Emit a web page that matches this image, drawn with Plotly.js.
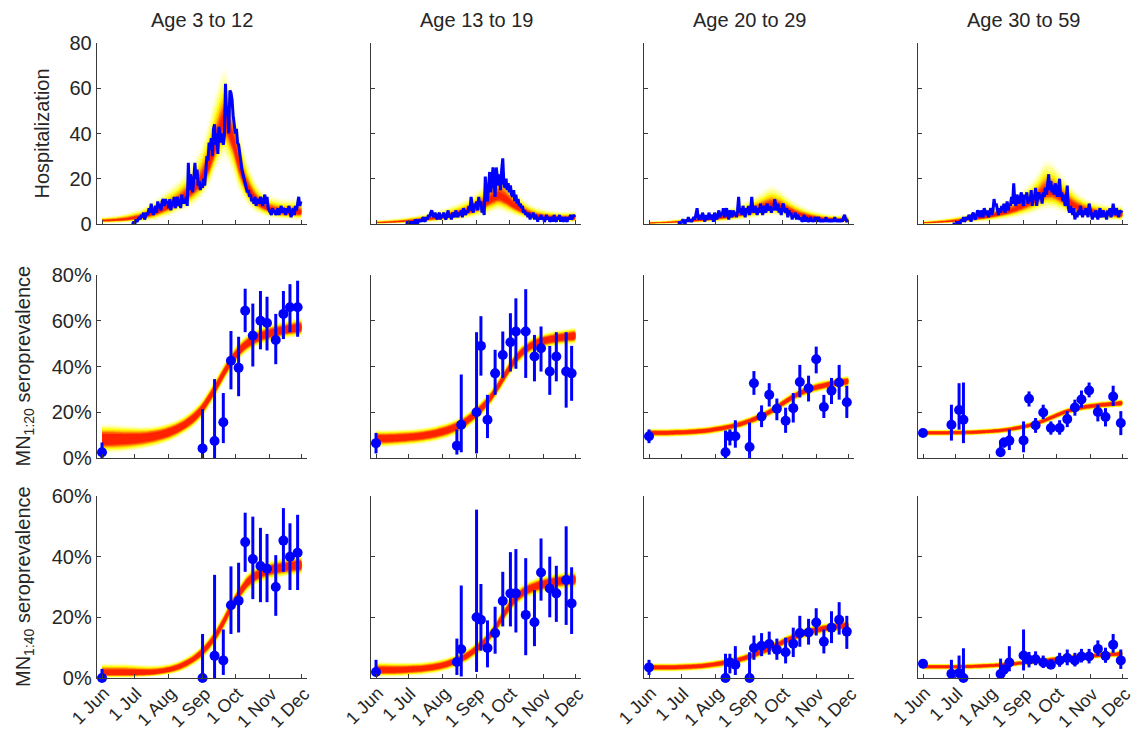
<!DOCTYPE html>
<html>
<head>
<meta charset="utf-8">
<script src="https://cdn.plot.ly/plotly-3.0.1.min.js"></script>
<style>html,body{margin:0;padding:0;background:#fff;}#chart{width:1140px;height:729px;}</style>
</head>
<body>
<div id="chart"></div>
<script>
// ---------------- DATA ----------------
const AGE_GROUPS = ['Age 3 to 12', 'Age 13 to 19', 'Age 20 to 29', 'Age 30 to 59'];
const MONTH_TICKS = ['2009-06-01','2009-07-01','2009-08-01','2009-09-01','2009-10-01','2009-11-01','2009-12-01'];
const MONTH_LABELS = ['1 Jun','1 Jul','1 Aug','1 Sep','1 Oct','1 Nov','1 Dec'];
const ROW_TITLES = ['Hospitalization', 'MN<sub>1:20</sub> seroprevalence', 'MN<sub>1:40</sub> seroprevalence'];
const HOSP_TICKS = [0, 20, 40, 60, 80];
const HOSP_LABELS = ['0', '20', '40', '60', '80'];
const MN20_TICKS = [0, 20, 40, 60, 80];
const MN20_LABELS = ['0%', '20%', '40%', '60%', '80%'];
const MN40_TICKS = [0, 20, 40, 60];
const MN40_LABELS = ['0%', '20%', '40%', '60%'];

// weekly model dates
const MODEL_DATES = ['2009-06-01','2009-06-08','2009-06-15','2009-06-22','2009-06-29','2009-07-06','2009-07-13','2009-07-20','2009-07-27',
  '2009-08-03','2009-08-10','2009-08-17','2009-08-24','2009-08-31','2009-09-07','2009-09-14','2009-09-21','2009-09-28',
  '2009-10-05','2009-10-12','2009-10-19','2009-10-26','2009-11-02','2009-11-09','2009-11-16','2009-11-23','2009-11-30'];

// daily hospitalizations, starting 28 Jun 2009
const HOSP_START = '2009-06-28';
const hosp_3to12 = [0,0,1,0,2,1,2, 3,2,4,3,5,2,4, 5,4,7,5,9,6,4, 6,8,5,10,7,9,6, 10,11,8,11,9,10,7, 11,6,10,8,12,7,9, 12,8,11,7,13,9,11,
  9,12,8, 27, 15,22,18,14,20, 27, 20,24,17,19,15,18,16,20,17, 24,30,28,36,33,38,30,42, 44, 35,40,31,43,38,36,40,35,39, 62, 48,52,40,59,
  58,55,48,45,40,42,36, 35,30,28,24,22,20,18, 17,14,15,12,13,10,11, 9,12,8,10,11,9,12, 10,8,11,13,9,12,7, 6,5,4,7,5,6,4,
  5,7,4,6,8,5,7, 6,4,7,5,8,6,3, 5,7,4,8,6,9,12, 8,10];
const hosp_13to19 = [0,0,1,0,0,1,0, 1,0,2,1,0,2,1, 2,1,3,2,1,3,2, 4,3,5,6,4,3,5, 3,2,4,5,2,4,3, 5,3,2,4,6,3,4, 2,5,4,3,6,4,3,
  5,4,6,3,7,5,4, 6,5,8,6,12,7,5, 9,7,10,6,12,8,10, 5,7,4,21,12,10,15, 23,14,18,25,16,12,25, 20,17,22,15,24,29,18,
  16,20,15,18,14,17,13, 12,15,10,13,9,11,8, 9,7,8,5,6,4,5, 3,5,2,4,3,5,2, 4,3,1,3,2,4,2, 3,1,2,4,2,3,1, 2,3,1,4,2,1,3,
  2,4,1,3,2,1,3, 2,1,3,2,4,2,3,4,3];
const hosp_20to29 = [0,1,0,1,2,1,0, 2,1,3,1,2,1,2, 3,2,4,7,3,2,4, 2,5,3,1,4,2,3, 5,2,4,3,1,5,3, 2,4,6,3,5,4,7, 3,5,7,4,2,6,5,
  3,6,4,5,3,6,12, 5,7,4,8,6,3,7, 5,8,4,6,12,7,5, 8,6,4,7,5,9,6, 4,8,6,5,9,7,6, 8,5,7,6,11,8,6, 9,5,7,4,8,9,6,
  5,7,3,6,4,5,2, 4,3,5,2,4,3,2, 3,1,2,4,1,3,2, 1,2,3,1,2,1,3, 2,1,3,2,1,2,1, 2,1,3,1,2,1,2, 1,2,1,3,1,2,1, 2,1,2,1,3,4,2,1,2];
const hosp_30to59 = [0,0,0,0,1,0,1, 0,2,1,3,1,2,3, 2,4,3,1,4,5,3, 2,4,6,5,3,6,4, 3,7,5,4,6,3,5, 7,4,6,11,8,9,6, 4,7,5,8,6,9,5,
  7,10,6,9,8,12,9, 18,10,8,13,11,9,12, 14,10,8,13,11,14,9, 12,10,15,8,13,11,16, 8,12,14,11,13,9,14, 12,16,13,18,22,15,19,
  14,17,13,18,15,12,16, 20,12,14,10,13,8,11, 17,7,5,8,6,4,7, 2,5,3,6,4,8,5, 3,6,4,7,5,3,9, 6,4,2,5,3,6,4, 2,5,7,3,4,6,3,
  5,2,6,4,7,3,5, 9,6,4,7,5,3,6,5,6];

// model hospitalization: median and outer band (weekly)
const hospMed_3to12 = [1.5,1.6,1.8,2,2.5,3,4,5,6.5,8,10,12.5,15.5,19,26,36,45,38,25,16,11,8,6.5,5.5,5,5,5];
const hospLo_3to12  = [0.3,0.3,0.4,0.5,0.6,0.8,1,1.5,2.5,3.5,5,6,8,11,16,24,28,22,13,8,5,3.5,2.5,2,1.8,1.8,1.8];
const hospHi_3to12  = [3.2,3.5,4,4.8,5.8,7,9,11.5,14,17,20,24,29,36,48,62,70,60,42,29,20,15,13,12,11.5,11.5,11.5];
const hospMed_13to19 = [0.6,0.7,0.8,1,1.2,1.5,1.8,2.2,2.7,3.2,3.8,4.6,5.5,6.8,8.5,10.5,12,10.5,8,6,4.5,3.5,3,2.7,2.5,2.5,2.5];
const hospLo_13to19  = [0.1,0.1,0.2,0.2,0.3,0.4,0.5,0.7,0.9,1.1,1.4,1.8,2.2,2.8,3.5,4.5,5.5,4.5,3.5,2.5,1.8,1.3,1,0.9,0.8,0.8,0.8];
const hospHi_13to19  = [1.7,2,2.3,2.7,3.2,3.8,4.5,5.3,6.3,7.4,8.6,10,12,14.5,18,22,26,22,16.5,12.5,9.5,7.8,6.8,6.2,5.8,5.8,5.8];
const hospMed_20to29 = [0.4,0.5,0.6,0.8,1,1.2,1.5,1.8,2.2,2.6,3.1,3.7,4.4,5.2,6.2,7.2,8,7.5,6.2,4.8,3.8,3,2.5,2.1,1.9,1.8,1.8];
const hospLo_20to29  = [0,0.1,0.1,0.1,0.2,0.3,0.4,0.5,0.7,0.9,1.1,1.4,1.7,2.1,2.6,3.1,3.5,3.2,2.6,2,1.5,1.1,0.9,0.7,0.6,0.6,0.6];
const hospHi_20to29  = [1.2,1.4,1.6,2,2.4,2.8,3.4,4.1,4.9,5.8,6.8,8,9.5,11,13,15.5,17.5,16,13,10.3,8.3,6.8,5.7,4.9,4.4,4.2,4.2];
const hospMed_30to59 = [0.5,0.6,0.8,1,1.3,1.6,2,2.5,3,3.6,4.4,5.3,6.4,7.8,9.5,11.5,14,14,12,9.5,7.5,6.2,5.3,4.7,4.3,4.1,4];
const hospLo_30to59  = [0.1,0.1,0.2,0.2,0.3,0.4,0.6,0.8,1,1.3,1.7,2.1,2.6,3.2,4,5,6,6,5,4,3.1,2.5,2.1,1.8,1.6,1.5,1.5];
const hospHi_30to59  = [1.5,1.8,2.2,2.7,3.3,4,4.8,5.7,6.8,8,9.4,11,13,15.5,19,23.5,29,28,23.5,19,15,12.5,10.8,9.7,9,8.6,8.4];

// model seroprevalence (%): MN 1:20
const mn20Med_3to12 = [8,8,8,8.1,8.3,8.6,9,9.6,10.4,11.5,13,15,17.5,21,26,31.5,37.5,43,47,50,52,53.5,54.5,55.3,56,56.5,57];
const mn20Lo_3to12  = [2,2,2.2,2.5,3,3.5,4.2,5,6,7.3,9,11,13.5,17,22,27.5,33.5,39,43,46,48,49.5,50.5,51.3,52,52.5,53];
const mn20Hi_3to12  = [15,15,14.8,14.5,14.3,14,14,14.3,15,16,17.3,19.3,22,25.5,30.5,36,42,47.5,51.5,54.5,56.5,58,59,59.8,60.5,61,61.5];
const mn20Med_13to19 = [8.5,8.5,8.6,8.8,9,9.3,9.7,10.2,10.9,11.8,13,14.6,16.6,19.3,22.5,26.5,31.5,37,42,46,48.5,50.3,51.3,52,52.6,53,53.4];
const mn20Lo_13to19  = [4.5,4.5,4.7,5,5.3,5.6,6,6.5,7.2,8.1,9.3,10.9,12.9,15.6,18.8,22.8,27.8,33.3,38.3,42.3,44.8,46.6,47.6,48.3,48.9,49.3,49.7];
const mn20Hi_13to19  = [12.5,12.5,12.6,12.7,12.8,13,13.4,13.9,14.6,15.5,16.7,18.3,20.3,23,26.2,30.2,35.2,40.7,45.7,49.7,52.2,54,55,55.7,56.3,56.7,57.1];
const mn20Med_20to29 = [11,11,11,11.1,11.2,11.3,11.5,11.8,12.2,12.7,13.3,14,14.9,16,17.3,18.8,20.6,22.8,25,27,28.7,30,31,31.8,32.5,33,33.5];
const mn20Lo_20to29  = [9,9,9,9.1,9.2,9.3,9.5,9.8,10.2,10.7,11.3,12,12.8,13.9,15.1,16.6,18.3,20.5,22.7,24.7,26.3,27.6,28.6,29.4,30,30.5,31];
const mn20Hi_20to29  = [13,13,13,13.1,13.2,13.3,13.5,13.8,14.2,14.7,15.3,16.1,17,18.1,19.5,21,22.9,25.1,27.4,29.4,31.1,32.4,33.5,34.3,35,35.5,36];
const mn20Med_30to59 = [11,11,11,11,11.1,11.1,11.2,11.3,11.5,11.7,12,12.4,12.9,13.6,14.4,15.4,16.6,18,19.4,20.6,21.5,22.2,22.7,23.1,23.4,23.7,24];
const mn20Lo_30to59  = [9.5,9.5,9.5,9.5,9.6,9.6,9.7,9.8,10,10.2,10.5,10.9,11.4,12,12.8,13.8,15,16.3,17.7,18.9,19.8,20.4,20.9,21.3,21.6,21.9,22.2];
const mn20Hi_30to59  = [12.5,12.5,12.5,12.5,12.6,12.6,12.7,12.8,13,13.2,13.5,13.9,14.5,15.2,16,17,18.3,19.7,21.1,22.3,23.3,24,24.5,24.9,25.2,25.5,25.8];

// model seroprevalence (%): MN 1:40
const mn40Med_3to12 = [1.5,1.5,1.5,1.5,1.5,1.5,1.6,1.8,2.2,2.8,3.6,4.8,6.3,8.3,11,14.5,19,24,28,31.5,33.5,34.8,35.6,36.2,36.6,37,37.2];
const mn40Lo_3to12  = [0,0,0,0,0,0.2,0.3,0.5,0.8,1.2,1.8,2.8,4.2,6,8.5,11.8,16,21,25,28.3,30.3,31.5,32.3,32.8,33.2,33.5,33.7];
const mn40Hi_3to12  = [5,5,5,5,4.8,4.6,4.4,4.4,4.6,5,5.8,7,8.6,10.8,13.8,17.5,22,27,31.2,34.8,36.8,38,39,39.6,40,40.4,40.6];
const mn40Med_13to19 = [2.5,2.5,2.5,2.6,2.7,2.9,3.1,3.4,3.8,4.4,5.2,6.2,7.5,9.3,11.5,14.3,18,22,25.5,27.8,29.3,30.3,31,31.5,31.9,32.2,32.4];
const mn40Lo_13to19  = [0.3,0.3,0.3,0.4,0.5,0.7,0.9,1.2,1.6,2.2,3,4,5.2,7,9.1,11.8,15.4,19.3,22.7,25,26.4,27.3,28,28.5,28.9,29.2,29.4];
const mn40Hi_13to19  = [5.5,5.5,5.4,5.3,5.3,5.3,5.4,5.7,6.1,6.7,7.5,8.5,9.9,11.8,14,16.9,20.7,24.8,28.4,30.8,32.3,33.3,34,34.6,35,35.3,35.5];
const mn40Med_20to29 = [3.5,3.5,3.5,3.5,3.6,3.7,3.8,4,4.3,4.7,5.1,5.6,6.2,7,7.9,8.9,10,11.2,12.4,13.5,14.5,15.3,15.9,16.4,16.8,17.1,17.3];
const mn40Lo_20to29  = [2,2,2,2,2.1,2.2,2.3,2.5,2.8,3.1,3.5,4,4.6,5.3,6.2,7.2,8.2,9.4,10.6,11.7,12.6,13.4,14,14.5,14.9,15.2,15.4];
const mn40Hi_20to29  = [5,5,5,5,5.1,5.2,5.3,5.5,5.8,6.2,6.7,7.2,7.8,8.6,9.6,10.7,11.8,13,14.3,15.4,16.4,17.2,17.8,18.3,18.7,19,19.2];
const mn40Med_30to59 = [3.7,3.7,3.7,3.7,3.7,3.8,3.8,3.9,4,4.1,4.3,4.5,4.7,5,5.2,5.5,5.8,6.1,6.4,6.7,6.9,7.1,7.3,7.5,7.7,7.8,8];
const mn40Lo_30to59  = [2.6,2.6,2.6,2.6,2.6,2.7,2.7,2.8,2.9,3,3.2,3.4,3.6,3.9,4.1,4.4,4.7,5,5.2,5.5,5.7,5.9,6.1,6.3,6.5,6.6,6.8];
const mn40Hi_30to59  = [4.8,4.8,4.8,4.8,4.8,4.9,4.9,5,5.1,5.2,5.4,5.6,5.8,6.1,6.4,6.7,7,7.3,7.6,7.9,8.1,8.3,8.5,8.7,8.9,9,9.2];

// serology observations (%), estimate with 95% interval
const seroDates_3to12 = ['2009-06-01','2009-09-01','2009-09-12','2009-09-20','2009-09-27','2009-10-04','2009-10-10','2009-10-17','2009-10-24','2009-10-30','2009-11-07','2009-11-14','2009-11-20','2009-11-27'];
const mn20Obs_3to12 = [2.5,4.2,7.4,15.6,42.5,39.4,64.4,53.5,60,59,51.6,63,65.9,65.9];
const mn20ObsLo_3to12 = [0,0,0,6.5,30,27,55,40,47.5,47,41,52,55,53];
const mn20ObsHi_3to12 = [6.8,21.4,34.5,28.4,55.5,53,74,67.5,73,70.5,63,73,76,77.5];
const mn40Obs_3to12 = [0,0,7.3,5.8,24,25.5,44.8,39.2,36.9,36,30,45.3,40,41.3];
const mn40ObsLo_3to12 = [0,0,0,1,14.5,15,35,26,25,25,20.5,35,29,29];
const mn40ObsHi_3to12 = [3,14.5,34,16,36.8,38,54.5,53.2,49.5,47.5,40.5,56,51,53.8];

const seroDates_13to19 = ['2009-06-01','2009-08-14','2009-08-18','2009-09-01','2009-09-05','2009-09-11','2009-09-18','2009-09-25','2009-10-02','2009-10-07','2009-10-16','2009-10-24','2009-10-30','2009-11-07','2009-11-13','2009-11-22','2009-11-27'];
const mn20Obs_13to19 = [6.5,5.4,14.5,20,49,16.7,37,45,50.6,55.3,55.3,44.4,48,37.8,44.4,37.8,37];
const mn20ObsLo_13to19 = [2,1.5,2.5,2,36,8.7,27.6,35,37.8,39,35,33.5,37.8,27.6,33.5,22,25];
const mn20ObsHi_13to19 = [11,12.5,36.5,55,62,27.6,47.3,55.3,63.3,69.8,73.8,53.8,57.5,49,55,55,49];
const mn40Obs_13to19 = [2,5.3,9.5,20,19.2,9.9,14.8,25.4,27.9,27.9,20.8,18.4,34.8,29.5,27.9,32.3,24.6];
const mn40ObsLo_13to19 = [0.5,1,0.5,2,9,3.5,8,17,17,15,7.5,10.5,25.5,20,18.5,17.5,14.5];
const mn40ObsHi_13to19 = [6,13,30.5,55.5,31,19,23.5,35,41.5,42.5,39.5,29,46,40,37,50,36.5];

const seroDates_20to29 = ['2009-06-01','2009-08-10','2009-08-14','2009-08-19','2009-09-01','2009-09-05','2009-09-12','2009-09-19','2009-09-26','2009-10-04','2009-10-11','2009-10-17','2009-10-25','2009-11-01','2009-11-08','2009-11-15','2009-11-22','2009-11-29'];
const mn20Obs_20to29 = [9.5,2.5,9.5,9.5,4.8,32.7,18.2,27.6,21.5,16.3,21.8,33.2,30.5,43.2,22.3,29.4,33,24.4];
const mn20ObsLo_20to29 = [6.5,0,5.5,4.5,0,27.6,13.5,22.5,16.5,11,15.5,26.5,24.7,37,17.5,23.6,25.5,17.5];
const mn20ObsHi_20to29 = [12.5,12,12.5,16.5,15.5,38,23,32.7,26,22,28.4,40.7,36,48.7,27.6,35,40.7,31.6];
const mn40Obs_20to29 = [3.5,0,5.1,4.4,0,9.9,10.6,11.2,9.3,8.5,11.3,14.8,15,18.3,12,16.6,19.2,15.3];
const mn40ObsLo_20to29 = [1,0,1.5,1,0,6,7.2,7.7,6,4.8,6.9,10.3,11,14,8.1,11.5,14.3,9.6];
const mn40ObsHi_20to29 = [6,8,8,10.5,8.5,14,14.8,15.3,13,13.3,16.6,20.5,19.5,23,16,22,25,20.5];

const seroDates_30to59 = ['2009-06-01','2009-06-27','2009-07-04','2009-07-08','2009-08-11','2009-08-14','2009-08-19','2009-09-01','2009-09-06','2009-09-12','2009-09-19','2009-09-26','2009-10-04','2009-10-11','2009-10-18','2009-10-24','2009-10-31','2009-11-08','2009-11-15','2009-11-22','2009-11-29'];
const mn20Obs_30to59 = [10.9,14.5,21,16.7,2.5,6.8,7.6,7.7,25.9,14.3,19.9,13.1,13.1,17,22.1,25.6,29.5,20.1,17.9,26.9,15.3];
const mn20ObsLo_30to59 = [9.5,7.6,12.4,6.5,0.7,4.5,3.5,2.5,22.5,11,17,10.2,10.2,13.5,18.5,22,26.5,16,13.8,22.7,10];
const mn20ObsHi_30to59 = [12.4,23.3,32.7,33,7.6,8.9,12.4,16,29.1,17.5,23.3,16,16.5,20.5,25.5,29.5,33,23.3,21.8,31.6,20.5];
const mn40Obs_30to59 = [4.7,1.4,1.6,0,1.3,2.7,5.1,7.4,6,6.2,5.1,4.4,5.8,6.6,5.8,7.1,7.1,9.6,7.3,11,5.8];
const mn40ObsLo_30to59 = [3.7,0.5,0.5,0,0.5,1.5,2.2,2.5,3.5,4.2,3.3,3,3.7,4.2,3.8,5.1,4.8,7.3,5,8.3,3];
const mn40ObsHi_30to59 = [5.7,6,7.4,9.8,6.4,4.4,10.5,16,8.6,8.8,7.4,6.2,8.3,9.4,8.3,9.6,9.6,12.4,10,14.5,9.4];

// ---------------- STYLE / LAYOUT ----------------
const W = 1140, H = 729;
const FONT = 'Liberation Sans, Arial, Helvetica, sans-serif';
const TXT = '#262626';
const AXC = '#3a3a3a';
const BLUE = '#0000ff';
const XRANGE = ['2009-05-27 10:00', '2009-12-05 14:00'];
const COL_PX = [[97, 307], [371, 581], [644, 854], [918, 1128]];
const ROW_PX = [[43, 224], [275, 458], [496, 678]];
const ROW_RANGE = [[0, 80], [0, 80], [0, 60]];
const ROW_TICKS = [HOSP_TICKS, MN20_TICKS, MN40_TICKS];
const ROW_TICKTEXT = [HOSP_LABELS, MN20_LABELS, MN40_LABELS];
const SERO_LEVELS = [
  {f: 1.00, c: '#fffff2'},
  {f: 0.90, c: '#ffffc0'},
  {f: 0.80, c: '#ffff70'},
  {f: 0.70, c: '#ffff10'},
  {f: 0.61, c: '#ffd400'},
  {f: 0.53, c: '#ff9a00'},
  {f: 0.46, c: '#ff5a00'},
  {f: 0.36, c: '#ff2200'}
];
const HOSP_LEVELS = [
  {f: 1.00, c: '#fffff4'},
  {f: 0.88, c: '#ffffd0'},
  {f: 0.76, c: '#ffff98'},
  {f: 0.64, c: '#ffff50'},
  {f: 0.53, c: '#ffef00'},
  {f: 0.43, c: '#ffc400'},
  {f: 0.34, c: '#ff8a00'},
  {f: 0.26, c: '#ff4c00'},
  {f: 0.16, c: '#ff2000'}
];

const models = [
  [[hospMed_3to12, hospLo_3to12, hospHi_3to12], [hospMed_13to19, hospLo_13to19, hospHi_13to19], [hospMed_20to29, hospLo_20to29, hospHi_20to29], [hospMed_30to59, hospLo_30to59, hospHi_30to59]],
  [[mn20Med_3to12, mn20Lo_3to12, mn20Hi_3to12], [mn20Med_13to19, mn20Lo_13to19, mn20Hi_13to19], [mn20Med_20to29, mn20Lo_20to29, mn20Hi_20to29], [mn20Med_30to59, mn20Lo_30to59, mn20Hi_30to59]],
  [[mn40Med_3to12, mn40Lo_3to12, mn40Hi_3to12], [mn40Med_13to19, mn40Lo_13to19, mn40Hi_13to19], [mn40Med_20to29, mn40Lo_20to29, mn40Hi_20to29], [mn40Med_30to59, mn40Lo_30to59, mn40Hi_30to59]]
];
const hospObs = [hosp_3to12, hosp_13to19, hosp_20to29, hosp_30to59];
const seroDates = [seroDates_3to12, seroDates_13to19, seroDates_20to29, seroDates_30to59];
const seroObs = [
  [[mn20Obs_3to12, mn20ObsLo_3to12, mn20ObsHi_3to12], [mn20Obs_13to19, mn20ObsLo_13to19, mn20ObsHi_13to19], [mn20Obs_20to29, mn20ObsLo_20to29, mn20ObsHi_20to29], [mn20Obs_30to59, mn20ObsLo_30to59, mn20ObsHi_30to59]],
  [[mn40Obs_3to12, mn40ObsLo_3to12, mn40ObsHi_3to12], [mn40Obs_13to19, mn40ObsLo_13to19, mn40ObsHi_13to19], [mn40Obs_20to29, mn40ObsLo_20to29, mn40ObsHi_20to29], [mn40Obs_30to59, mn40ObsLo_30to59, mn40ObsHi_30to59]]
];

function addDays(iso, n) {
  const d = new Date(iso + 'T00:00:00Z');
  d.setUTCDate(d.getUTCDate() + n);
  return d.toISOString().slice(0, 10);
}

const traces = [];
const layout = {
  width: W, height: H, margin: {l: 0, r: 0, t: 0, b: 0},
  paper_bgcolor: '#ffffff', plot_bgcolor: 'rgba(0,0,0,0)',
  showlegend: false, font: {family: FONT, size: 20, color: TXT},
  annotations: []
};

for (let r = 0; r < 3; r++) {
  for (let c = 0; c < 4; c++) {
    const k = r * 4 + c + 1;
    const xa = k === 1 ? 'x' : 'x' + k;
    const ya = k === 1 ? 'y' : 'y' + k;
    const xkey = k === 1 ? 'xaxis' : 'xaxis' + k;
    const ykey = k === 1 ? 'yaxis' : 'yaxis' + k;
    layout[xkey] = {
      domain: [COL_PX[c][0] / W, COL_PX[c][1] / W], anchor: ya, type: 'date', range: XRANGE,
      tickmode: 'array', tickvals: MONTH_TICKS, ticktext: MONTH_LABELS, showticklabels: false,
      ticks: 'inside', ticklen: 4, tickwidth: 1, tickcolor: AXC,
      showline: true, linecolor: AXC, linewidth: 1.3, showgrid: false, zeroline: false, fixedrange: true
    };
    layout[ykey] = {
      domain: [1 - ROW_PX[r][1] / H, 1 - ROW_PX[r][0] / H], anchor: xa, range: ROW_RANGE[r],
      tickmode: 'array', tickvals: ROW_TICKS[r], ticktext: ROW_TICKTEXT[r], showticklabels: c === 0,
      ticks: 'inside', ticklen: 4, tickwidth: 1, tickcolor: AXC,
      showline: true, linecolor: AXC, linewidth: 1.3, showgrid: false, zeroline: false,
      tickfont: {family: FONT, size: 20, color: TXT}, fixedrange: true
    };

    // rotated month labels under the bottom row
    if (r === 2) {
      MONTH_TICKS.forEach((t, i) => {
        layout.annotations.push({
          text: MONTH_LABELS[i], xref: xa, yref: 'paper', x: t, y: 1 - 681 / H,
          xanchor: 'right', yanchor: 'top', xshift: 14, textangle: -45, showarrow: false,
          font: {family: FONT, size: 18, color: TXT}
        });
      });
    }

    // model density band
    const [med, lo, hi] = models[r][c];
    (r === 0 ? HOSP_LEVELS : SERO_LEVELS).forEach(L => {
      const up = med.map((m, i) => m + L.f * (hi[i] - m));
      const dn = med.map((m, i) => m - L.f * (m - lo[i]));
      traces.push({
        type: 'scatter', mode: 'lines', xaxis: xa, yaxis: ya,
        x: MODEL_DATES.concat(MODEL_DATES.slice().reverse()),
        y: up.concat(dn.slice().reverse()),
        fill: 'toself', fillcolor: L.c, line: {width: 0, shape: 'spline', smoothing: 0.8},
        hoverinfo: 'skip'
      });
    });

    if (r === 0) {
      const vals = hospObs[c];
      traces.push({
        type: 'scatter', mode: 'lines', xaxis: xa, yaxis: ya,
        x: vals.map((v, i) => addDays(HOSP_START, i)), y: vals,
        line: {color: BLUE, width: 3}, cliponaxis: false
      });
    } else {
      const [v, vlo, vhi] = seroObs[r - 1][c];
      traces.push({
        type: 'scatter', mode: 'markers', xaxis: xa, yaxis: ya,
        x: seroDates[c], y: v,
        marker: {color: BLUE, size: 10},
        error_y: {type: 'data', symmetric: false, array: vhi.map((h, i) => h - v[i]), arrayminus: v.map((x, i) => x - vlo[i]),
                  color: BLUE, thickness: 3, width: 0},
        cliponaxis: false
      });
    }
  }
}

// column titles
AGE_GROUPS.forEach((t, c) => {
  layout.annotations.push({
    text: t, xref: 'paper', yref: 'paper', showarrow: false,
    x: (COL_PX[c][0] + COL_PX[c][1]) / 2 / W, y: 1 - 20 / H, xanchor: 'center', yanchor: 'middle',
    font: {family: FONT, size: 20, color: TXT}
  });
});
// row titles
const ROW_TITLE_X = [41, 24, 24];
ROW_TITLES.forEach((t, r) => {
  layout.annotations.push({
    text: t, xref: 'paper', yref: 'paper', showarrow: false, textangle: -90,
    x: ROW_TITLE_X[r] / W, y: 1 - (ROW_PX[r][0] + ROW_PX[r][1]) / 2 / H, xanchor: 'center', yanchor: 'middle',
    font: {family: FONT, size: 20, color: TXT}
  });
});

Plotly.newPlot('chart', traces, layout, {staticPlot: true, displayModeBar: false});
</script>
</body>
</html>
